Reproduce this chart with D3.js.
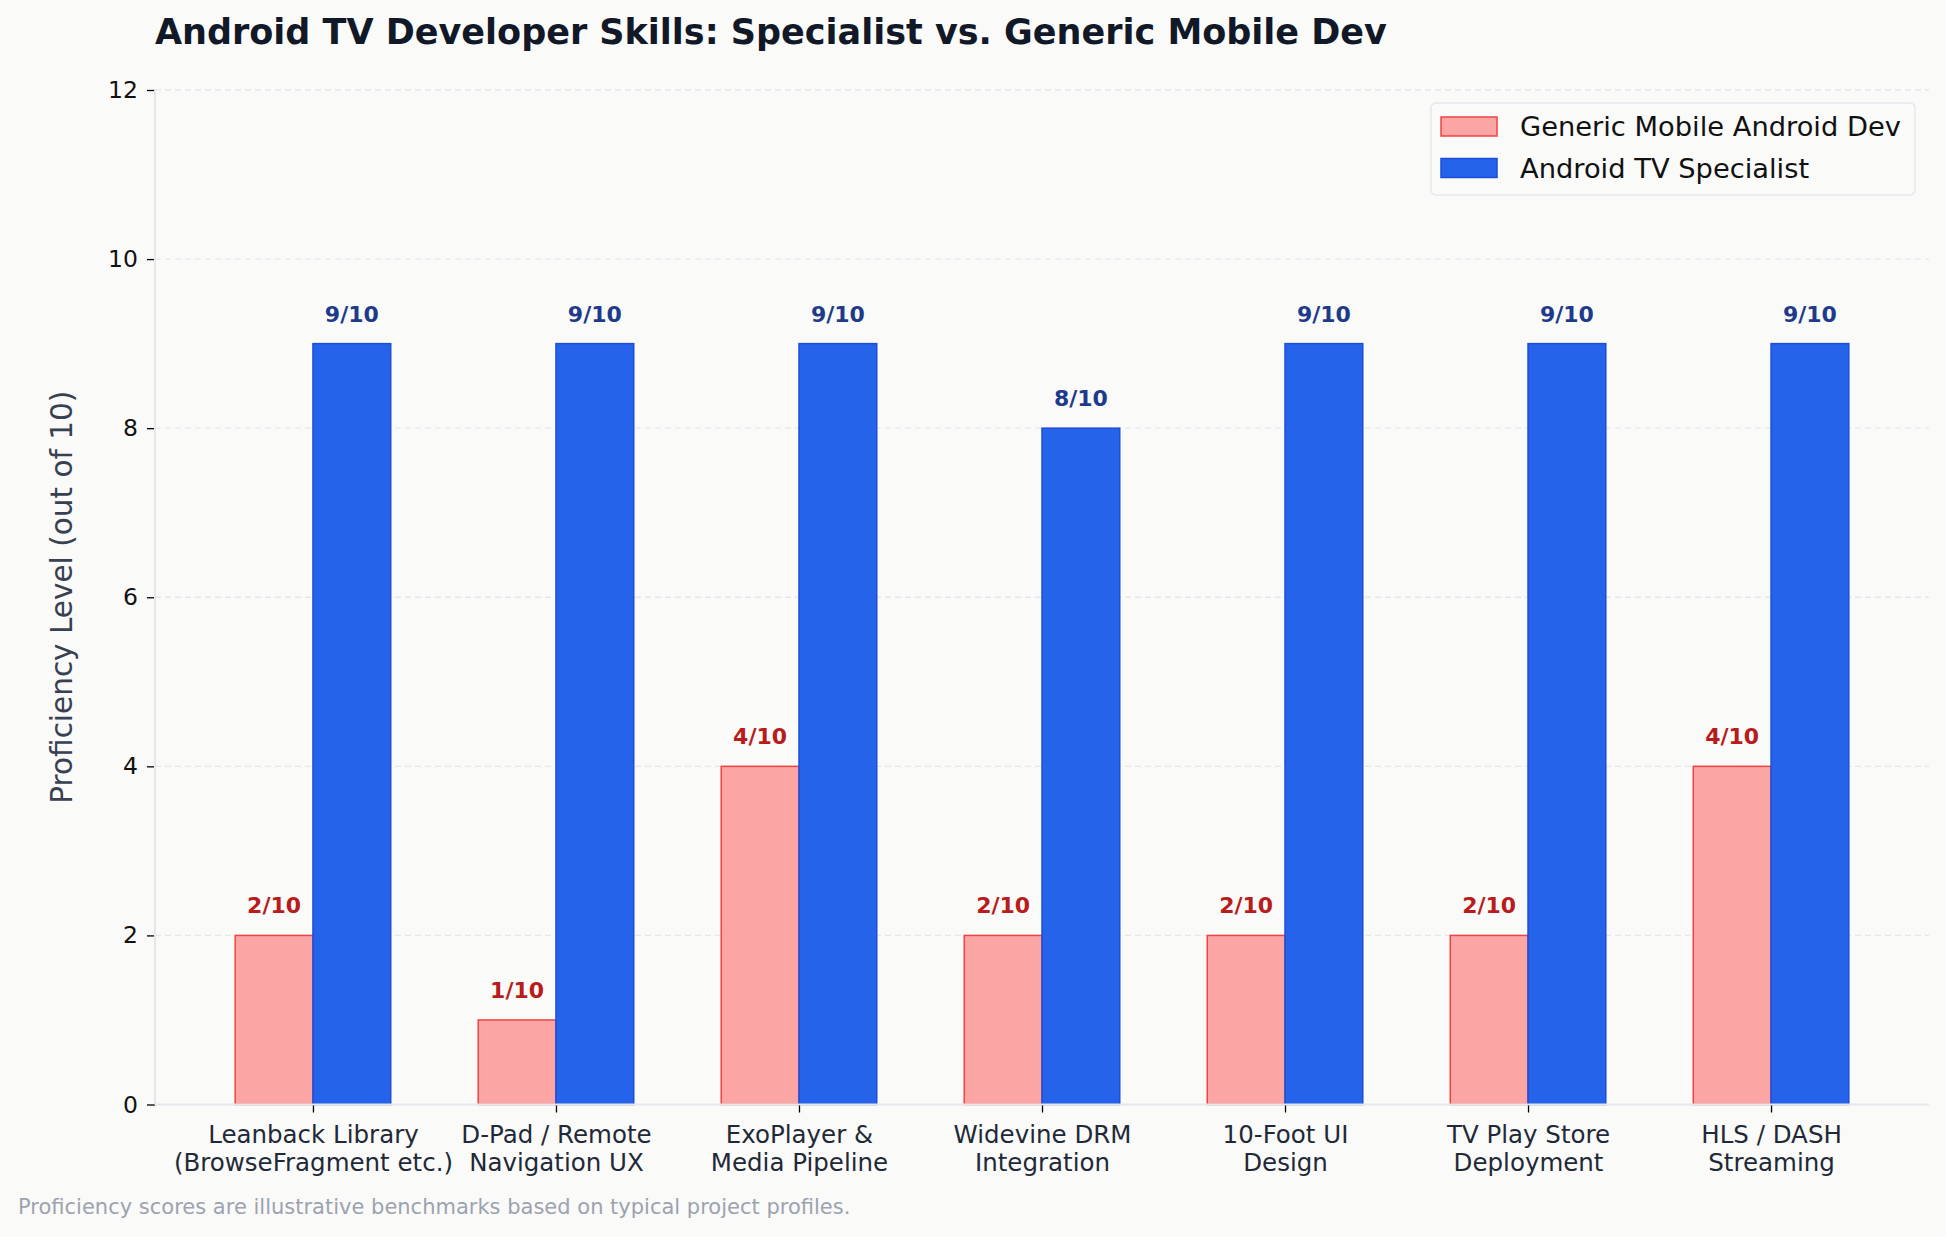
<!DOCTYPE html>
<html>
<head>
<meta charset="utf-8">
<script src="https://cdn.jsdelivr.net/npm/d3@7"></script>
<style>
  body { margin: 0; background: #fafaf9; }
  text { font-family: "DejaVu Sans", sans-serif; }
</style>
</head>
<body>
<div id="chart"></div>
<script>
// chart values
var categories = [
  ["Leanback Library", "(BrowseFragment etc.)"],
  ["D-Pad / Remote", "Navigation UX"],
  ["ExoPlayer &", "Media Pipeline"],
  ["Widevine DRM", "Integration"],
  ["10-Foot UI", "Design"],
  ["TV Play Store", "Deployment"],
  ["HLS / DASH", "Streaming"]
];
var genericVals = [2, 1, 4, 2, 2, 2, 4];
var specialistVals = [9, 9, 9, 8, 9, 9, 9];
var yTicks = [0, 2, 4, 6, 8, 10, 12];
var seriesNames = ["Generic Mobile Android Dev", "Android TV Specialist"];

var W = 1946, H = 1237;
var mLeft = 155, mRight = 1929, mTop = 90, mBottom = 1104.5;
var bw = 0.32;

var svg = d3.select("#chart").append("svg")
  .attr("width", W).attr("height", H);

svg.append("rect").attr("width", W).attr("height", H).attr("fill", "#fafaf9");

var x = d3.scaleLinear().domain([-0.65, 6.65]).range([mLeft, mRight]);
var y = d3.scaleLinear().domain([0, 12]).range([mBottom, mTop]);

// grid
svg.append("g").selectAll("line")
  .data(yTicks.slice(1))
  .enter().append("line")
  .attr("x1", mLeft).attr("x2", mRight)
  .attr("y1", function(d) { return y(d); })
  .attr("y2", function(d) { return y(d); })
  .attr("stroke", "#e5e7eb")
  .attr("stroke-width", 1.3)
  .attr("stroke-dasharray", "6,4");

// bars
svg.append("g").selectAll("rect")
  .data(genericVals)
  .enter().append("rect")
  .attr("x", function(d, i) { return x(i - bw); })
  .attr("width", x(bw) - x(0))
  .attr("y", function(d) { return y(d); })
  .attr("height", function(d) { return y(0) - y(d); })
  .attr("fill", "#fca5a5")
  .attr("stroke", "#ef4444")
  .attr("stroke-width", 1.5);

svg.append("g").selectAll("rect")
  .data(specialistVals)
  .enter().append("rect")
  .attr("x", function(d, i) { return x(i); })
  .attr("width", x(bw) - x(0))
  .attr("y", function(d) { return y(d); })
  .attr("height", function(d) { return y(0) - y(d); })
  .attr("fill", "#2563eb")
  .attr("stroke", "#1d4ed8")
  .attr("stroke-width", 1.5);

// value labels
svg.append("g").selectAll("text")
  .data(genericVals)
  .enter().append("text")
  .attr("x", function(d, i) { return x(i - bw / 2); })
  .attr("y", function(d) { return y(d) - 22; })
  .attr("text-anchor", "middle")
  .attr("font-size", 22).attr("font-weight", "bold")
  .attr("fill", "#b91c1c")
  .text(function(d) { return d + "/10"; });

svg.append("g").selectAll("text")
  .data(specialistVals)
  .enter().append("text")
  .attr("x", function(d, i) { return x(i + bw / 2); })
  .attr("y", function(d) { return y(d) - 22; })
  .attr("text-anchor", "middle")
  .attr("font-size", 22).attr("font-weight", "bold")
  .attr("fill", "#1e3a8a")
  .text(function(d) { return d + "/10"; });

// axes
var yAxis = d3.axisLeft(y).tickValues(yTicks).tickSize(8).tickPadding(9);
var gy = svg.append("g").attr("transform", "translate(" + mLeft + ",0)").call(yAxis);
gy.select(".domain").remove();
gy.selectAll(".tick line").attr("stroke", "#000").attr("stroke-width", 1.3);
gy.selectAll(".tick text").attr("font-size", 23.5).attr("fill", "#111")
  .attr("font-family", "DejaVu Sans");

var xAxis = d3.axisBottom(x).tickValues(d3.range(categories.length)).tickSize(8).tickFormat("");
var gx = svg.append("g").attr("transform", "translate(0," + mBottom + ")").call(xAxis);
gx.select(".domain").remove();
gx.selectAll(".tick line").attr("stroke", "#000").attr("stroke-width", 1.3);
gx.selectAll(".tick text").remove();
gx.selectAll(".tick").append("text")
  .attr("text-anchor", "middle")
  .attr("font-size", 24.5)
  .attr("fill", "#1f2937")
  .each(function(d) {
    var t = d3.select(this);
    categories[d].forEach(function(line, k) {
      t.append("tspan").attr("x", 0).attr("y", 38 + k * 28).text(line);
    });
  });

// spines
svg.append("line").attr("x1", mLeft).attr("x2", mLeft).attr("y1", mTop).attr("y2", mBottom)
  .attr("stroke", "#e5e7eb").attr("stroke-width", 2);
svg.append("line").attr("x1", mLeft).attr("x2", mRight).attr("y1", mBottom).attr("y2", mBottom)
  .attr("stroke", "#e5e7eb").attr("stroke-width", 2);

// title
svg.append("text")
  .attr("x", 155).attr("y", 44)
  .attr("font-size", 35).attr("font-weight", "bold")
  .attr("fill", "#111827")
  .text("Android TV Developer Skills: Specialist vs. Generic Mobile Dev");

// y label
svg.append("text")
  .attr("transform", "translate(72," + ((mTop + mBottom) / 2) + ") rotate(-90)")
  .attr("text-anchor", "middle")
  .attr("font-size", 29.5)
  .attr("fill", "#374151")
  .text("Proficiency Level (out of 10)");

// legend
var lg = svg.append("g").attr("transform", "translate(1431,103)");
lg.append("rect").attr("width", 484).attr("height", 92).attr("rx", 5)
  .attr("fill", "#fafaf9").attr("stroke", "#e5e7eb").attr("stroke-width", 1.5);
var legFill = ["#fca5a5", "#2563eb"], legStroke = ["#ef4444", "#1d4ed8"];
seriesNames.forEach(function(name, i) {
  lg.append("rect").attr("x", 10).attr("y", 14 + i * 41.5).attr("width", 56).attr("height", 19)
    .attr("fill", legFill[i]).attr("stroke", legStroke[i]).attr("stroke-width", 1.5);
  lg.append("text").attr("x", 89).attr("y", 33 + i * 41.5)
    .attr("font-size", 27.3).attr("fill", "#111")
    .text(name);
});

// footnote
svg.append("text")
  .attr("x", 18).attr("y", 1214)
  .attr("font-size", 21).attr("fill", "#9ca3af")
  .text("Proficiency scores are illustrative benchmarks based on typical project profiles.");
</script>
</body>
</html>
